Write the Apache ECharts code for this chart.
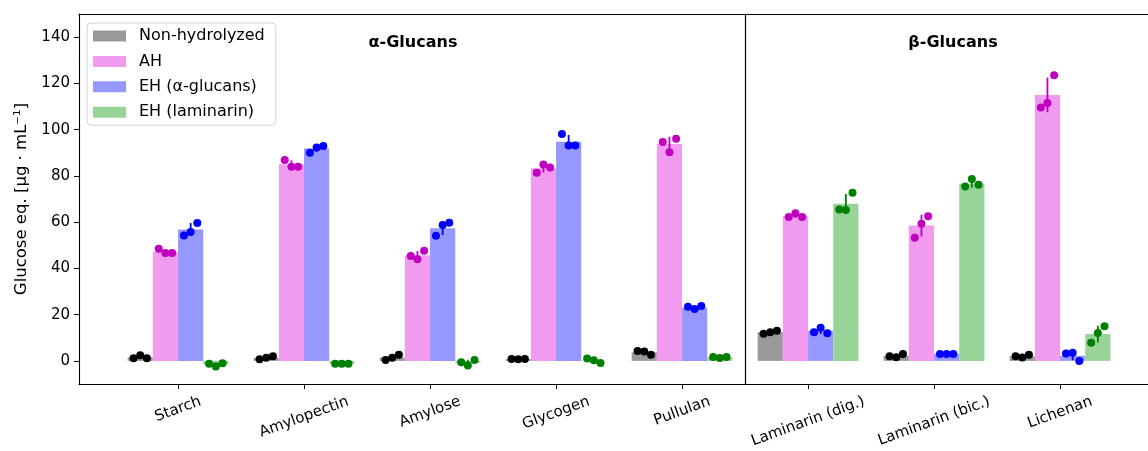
<!DOCTYPE html>
<html><head><meta charset="utf-8">
<script src="https://cdn.jsdelivr.net/npm/echarts@6/dist/echarts.min.js"></script>
<style>html,body{margin:0;padding:0;background:#fff}#c{width:1148px;height:451px}</style>
</head><body><div id="c"></div>
<script>
// ---------- data ----------
const categories = ['Starch','Amylopectin','Amylose','Glycogen','Pullulan','Laminarin (dig.)','Laminarin (bic.)','Lichenan'];
const yTicks = [0,20,40,60,80,100,120,140];
const xTicks = [0,1,2,3,4,5,6,7];
const groupDivider = 4.5;
const panelTitles = ['α-Glucans','β-Glucans'];

const nonHydroMean = [1.5, 1.3, 1.4, 0.8, 3.7, 12.4, 2.2, 2.0];
const nonHydroErr  = [0.75, 0.65, 1.1, 0.06, 0.87, 0.65, 0.72, 0.55];
const nonHydroReps = [[1.1,2.4,1.1],[0.7,1.3,2.0],[0.4,1.3,2.6],[0.8,0.7,0.8],[4.3,4.1,2.7],[11.7,12.4,13.0],[2.0,1.6,3.0],[2.0,1.5,2.6]];

const ahMean = [47.2, 85.0, 45.7, 83.3, 93.8, 62.7, 58.5, 115.0];
const ahErr  = [1.1, 1.7, 1.8, 1.8, 3.1, 0.9, 4.7, 7.5];
const ahReps = [[48.5,46.6,46.6],[86.9,84.0,84.0],[45.3,44.0,47.6],[81.3,84.9,83.6],[94.7,90.2,96.1],[62.2,63.8,62.2],[53.2,59.3,62.5],[109.6,111.5,123.5]];

const ehAlphaMean = [56.8, 91.8, 57.4, 94.8, 23.0, 13.0, 3.1, 2.2];
const ehAlphaErr  = [2.8, 1.5, 3.0, 2.9, 0.7, 1.3, 0.1, 1.9];
const ehAlphaReps = [[54.2,55.7,59.6],[90.0,92.3,92.9],[54.1,58.8,59.7],[98.1,93.1,93.1],[23.4,22.4,23.7],[12.4,14.3,11.9],[3.0,3.0,3.0],[3.2,3.5,0.0]];

const ehLamMean = [-1.5, -1.2, -0.7, 0.1, 1.5, 68.0, 76.6, 11.6];
const ehLamErr  = [0.8, 0.05, 1.2, 1.0, 0.3, 4.2, 1.7, 3.6];
const ehLamReps = [[-1.2,-2.4,-1.0],[-1.2,-1.2,-1.2],[-0.6,-2.0,0.4],[1.0,0.3,-0.9],[1.7,1.2,1.7],[65.5,65.2,72.7],[75.4,78.6,76.2],[7.8,12.1,15.0]];

// ---------- styling ----------
const FONT = 'DejaVu Sans';
const groups = [
  {name:'Non-hydrolyzed', mean:nonHydroMean, err:nonHydroErr, reps:nonHydroReps, offset:-0.3, bar:'#999999', dot:'#000000'},
  {name:'AH', mean:ahMean, err:ahErr, reps:ahReps, offset:-0.1, bar:'#f09af0', dot:'#bf00bf'},
  {name:'EH (α-glucans)', mean:ehAlphaMean, err:ehAlphaErr, reps:ehAlphaReps, offset:0.1, bar:'#9698ff', dot:'#0000ff'},
  {name:'EH (laminarin)', mean:ehLamMean, err:ehLamErr, reps:ehLamReps, offset:0.3, bar:'#98d498', dot:'#008000'}
];
const BAR_HALF = 0.1;
const DOT_DX = [-0.053, 0, 0.053];
const X_MIN = -0.786, X_MAX = 7.698;

const series = [];
groups.forEach((g, gi) => {
  series.push({
    type:'custom', name:g.name, silent:true, z:1, itemStyle:{color:g.bar},
    encode:{x:0, y:1},
    data: g.mean.map((v,i)=>[i+g.offset, v]),
    renderItem:(params, api)=>{
      const x = api.value(0), y = api.value(1);
      const a = api.coord([x-BAR_HALF, 0]);
      const b = api.coord([x+BAR_HALF, y]);
      return {type:'rect', shape:{x:a[0], y:Math.min(a[1],b[1]), width:b[0]-a[0], height:Math.abs(a[1]-b[1])}, style:{fill:g.bar}};
    },
    markLine: gi===0 ? {silent:true, symbol:['none','none'], label:{show:false}, animation:false,
      lineStyle:{color:'#000', width:1.2, type:'solid'}, data:[{xAxis:groupDivider}]} : undefined
  });
  series.push({
    type:'custom', name:g.name+' err', silent:true, z:2,
    encode:{x:0, y:1},
    data: g.mean.map((v,i)=>[i+g.offset, v, g.err[i]]),
    renderItem:(params, api)=>{
      const x = api.value(0), y = api.value(1), e = api.value(2);
      const a = api.coord([x, y-e]);
      const b = api.coord([x, y+e]);
      return {type:'line', shape:{x1:a[0], y1:a[1], x2:b[0], y2:b[1]}, style:{stroke:g.dot, lineWidth:1.8}};
    }
  });
  series.push({
    type:'scatter', name:g.name+' reps', silent:true, z:3, symbolSize:8,
    itemStyle:{color:g.dot, opacity:1},
    data: g.reps.flatMap((r,i)=>r.map((v,k)=>[i+g.offset+DOT_DX[k], v]))
  });
});

const spine = {show:true, onZero:false, lineStyle:{color:'#000', width:1.1}};
const option = {
  animation:false,
  backgroundColor:'#fff',
  grid:{left:79, top:14, right:0, height:370, show:false},
  xAxis:[
    {type:'value', position:'bottom', min:X_MIN, max:X_MAX,
      axisLine:spine, splitLine:{show:false},
      axisTick:{show:true, length:5, lineStyle:{color:'#000'}, customValues:xTicks},
      axisLabel:{show:false}},
    {type:'value', position:'top', min:X_MIN, max:X_MAX,
      axisLine:spine, splitLine:{show:false}, axisTick:{show:false}, axisLabel:{show:false}}
  ],
  yAxis:{type:'value', min:-10, max:150,
    name:'Glucose eq. [µg · mL⁻¹]', nameLocation:'middle', nameRotate:90, nameGap:47,
    nameTextStyle:{fontFamily:FONT, fontSize:16.5, color:'#000'},
    axisLine:spine, splitLine:{show:false},
    axisTick:{show:true, length:5, lineStyle:{color:'#000'}, customValues:yTicks},
    axisLabel:{fontFamily:FONT, fontSize:15, color:'#000', margin:9, customValues:yTicks}
  },
  legend:{orient:'vertical', left:87, top:23, padding:[5,11,5,6], itemWidth:33, itemHeight:11, itemGap:9.4,
    icon:'rect', selectedMode:false, backgroundColor:'rgba(255,255,255,0.85)', borderColor:'#d4d4d4', borderWidth:1, borderRadius:4,
    textStyle:{fontFamily:FONT, fontSize:16, color:'#000', padding:[0,0,0,8]},
    data: groups.map(g=>({name:g.name, itemStyle:{color:g.bar}}))
  },
  series
};

const chart = echarts.init(document.getElementById('c'));
chart.setOption(option);

// x tick labels (matplotlib-style: rotated, centred under tick, bbox top aligned)
const ROT = 20 * Math.PI / 180;
const LABEL_FS = 15;
const ctx = document.createElement('canvas').getContext('2d');
ctx.font = LABEL_FS + 'px "' + FONT + '"';
const axisBottom = chart.convertToPixel({yAxisIndex:0}, -10);
const graphics = categories.map((name, i) => {
  const px = chart.convertToPixel({xAxisIndex:0}, xTicks[i]);
  const w = ctx.measureText(name).width;
  const H = w*Math.sin(ROT) + LABEL_FS*Math.cos(ROT);
  return {type:'text', x:px, y:axisBottom + 10 + H/2, rotation:ROT, silent:true,
    style:{text:name, font:LABEL_FS+'px "'+FONT+'"', fill:'#000', align:'center', verticalAlign:'middle'}};
});
const titleY = 43;
graphics.push({type:'text', x:413, y:titleY, silent:true, style:{text:panelTitles[0], font:'bold 16px "'+FONT+'"', fill:'#000', align:'center', verticalAlign:'middle'}});
graphics.push({type:'text', x:953, y:titleY, silent:true, style:{text:panelTitles[1], font:'bold 16px "'+FONT+'"', fill:'#000', align:'center', verticalAlign:'middle'}});
chart.setOption({graphic: graphics});
</script></body></html>
